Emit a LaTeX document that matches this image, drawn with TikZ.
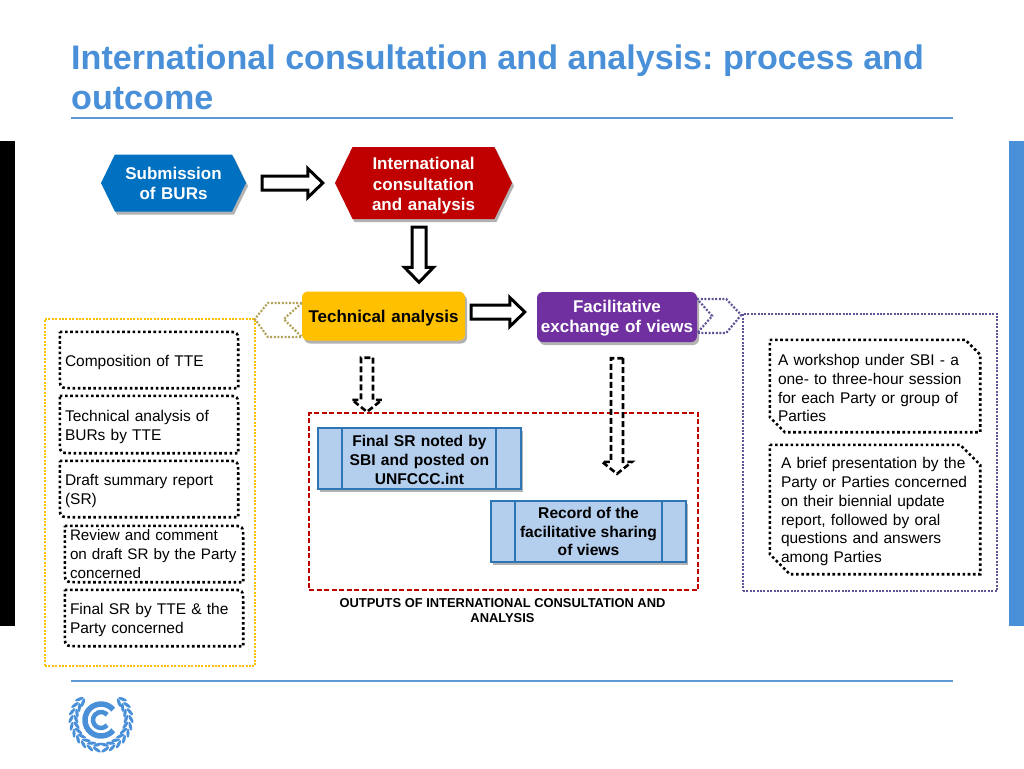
\documentclass[tikz,border=0pt]{standalone}
\usepackage{fontspec}
\setmainfont{Liberation Sans}
\frenchspacing
\usetikzlibrary{calc,shadows,shapes.symbols}
\definecolor{unfcccBlue}{RGB}{74, 144, 217}
\definecolor{unfcccLine}{RGB}{91, 155, 213}
\definecolor{subBlue}{RGB}{0, 112, 192}
\definecolor{icaRed}{RGB}{192, 0, 0}
\definecolor{taYellow}{RGB}{255, 192, 0}
\definecolor{fevPurple}{RGB}{112, 48, 160}
\definecolor{chevOlive}{RGB}{178, 162, 90}
\definecolor{frameSlate}{RGB}{96, 84, 150}
\definecolor{outBorder}{RGB}{46, 117, 182}
\definecolor{outFill}{RGB}{180, 207, 238}
\tikzset{
  softshadow/.style={drop shadow={shadow xshift=2pt,shadow yshift=-3pt,opacity=.3,fill=black}},
  lowertext/.style={execute at begin node={\rule{0pt}{#1}}},
  hexbox/.style={signal, signal to=west and east, signal pointer angle=128, inner sep=0, draw=none, softshadow, text=white, align=center, font=\fontsize{17}{20.5}\selectfont\bfseries},
  stagebox/.style={rectangle, rounded corners=6, inner sep=0, softshadow, align=center, font=\fontsize{17}{20.5}\selectfont\bfseries},
  notebox/.style={rectangle, inner xsep=5, inner ysep=0, align=left, font=\fontsize{15.5}{18.8}\selectfont},
  noteline/.style={draw=black, line width=2.6, dash pattern=on 2.6 off 2.6},
  framebox/.style={rectangle, inner sep=0, line width=2, dash pattern=on 2 off 1.4},
  outputbox/.style={rectangle, inner sep=0, draw=outBorder, line width=2.4, fill=outFill, softshadow, align=center, font=\fontsize{15.6}{18.8}\selectfont\bfseries},
  outputrule/.style={draw=outBorder, line width=2.4},
  chevrondot/.style={line width=2.2, dash pattern=on 2 off 1.6},
  blockarrow/.style n args={3}{to path={
    ($(\tikztostart)!#1pt!90:(\tikztotarget)$)
    -- ($(\tikztotarget)!#3pt!(\tikztostart)!#1pt!-90:(\tikztostart)$)
    -- ($(\tikztotarget)!#3pt!(\tikztostart)!#2pt!-90:(\tikztostart)$)
    -- (\tikztotarget)
    -- ($(\tikztotarget)!#3pt!(\tikztostart)!#2pt!90:(\tikztostart)$)
    -- ($(\tikztotarget)!#3pt!(\tikztostart)!#1pt!90:(\tikztostart)$)
    -- ($(\tikztostart)!#1pt!-90:(\tikztotarget)$) -- cycle}},
  solidarrow/.style={blockarrow={7}{14.5}{15}, draw=black, line width=3, fill=white, line join=miter},
  dasharrow/.style={blockarrow={6}{15}{12}, draw=black, line width=2.6, dash pattern=on 6 off 3}
}
\begin{document}
\begin{tikzpicture}[x=1pt, y=-1pt]
\useasboundingbox (0,0) rectangle (1024,768);
\fill[black] (0,141) rectangle (15,626);
\fill[unfcccBlue] (1009,141) rectangle (1024,626);
\node[anchor=north west, inner sep=0, align=left, text=unfcccBlue, font=\fontsize{34.1}{40}\selectfont\bfseries] (title) at (71,45) {International consultation and analysis: process and\\outcome};
\coordinate (titleruleL) at (71,118);
\coordinate (titleruleR) at (953,118);
\coordinate (footruleL) at (71,681);
\coordinate (footruleR) at (953,681);
\draw[unfcccLine, line width=1.3] (titleruleL) -- (titleruleR);
\draw[unfcccLine, line width=1.3] (footruleL) -- (footruleR);

\node[framebox, draw=taYellow, minimum width=210, minimum height=347] (leftframe) at (150,492.5) {};
\node[framebox, draw=frameSlate, minimum width=254, minimum height=277] (rightframe) at (870,452.5) {};
\node[rectangle, inner sep=0, draw=icaRed, line width=1.6, dash pattern=on 5 off 2.5, minimum width=389, minimum height=177] (outframe) at (503.5,501.5) {};

\node[hexbox, fill=subBlue, text width=110, lowertext=13.5pt, minimum width=145, minimum height=57] (subm) at (173.5,183) {Submission\\of BURs};
\node[hexbox, fill=icaRed, text width=120, lowertext=18pt, minimum width=177, minimum height=72] (ica) at (423.5,183) {International\\consultation\\and analysis};
\node[stagebox, fill=taYellow, text width=160, lowertext=17pt, minimum width=163, minimum height=49] (tech) at (383.5,316) {Technical analysis};
\node[stagebox, fill=fevPurple, text=white, text width=156, lowertext=15pt, minimum width=160, minimum height=50] (fev) at (617,317) {Facilitative\\exchange of views};

\draw[solidarrow] ([xshift=16]subm.east) to ([xshift=-12]ica.west);
\draw[solidarrow] ([xshift=-4.5,yshift=-8]ica.south) to ([xshift=35.5,yshift=9]tech.north);
\draw[solidarrow] ([xshift=6,yshift=4]tech.east) to ([xshift=-12,yshift=5]fev.west);

\draw[chevrondot, draw=chevOlive] ([yshift=13]tech.west) -- ++(-34,0) -- ++(-13,16) -- ++(13,18) -- ++(34,0) -- ++(-18,-18) -- cycle;
\draw[chevrondot, draw=frameSlate] ([yshift=18]fev.east) -- ++(29,0) -- ++(15,16) -- ++(-15,18) -- ++(-29,0) -- ++(15,-17) -- cycle;

\node[notebox, lowertext=15.5pt, text width=168, minimum height=56] (comp) at (149,360) {Composition of TTE};
\node[notebox, lowertext=15.5pt, text width=168, minimum height=57] (taburs) at (149,424.5) {Technical analysis of\\BURs by TTE};
\node[notebox, lowertext=15.5pt, text width=168, minimum height=56] (draft) at (149,489) {Draft summary report\\(SR)};
\node[notebox, text width=168, minimum height=56, font=\fontsize{15.2}{18.8}\selectfont] (review) at (154,554) {Review and comment\\\mbox{on draft SR by the Party}\\concerned};
\node[notebox, lowertext=15.5pt, text width=168, minimum height=56] (finalsr) at (154,618) {Final SR by TTE \& the\\Party concerned};
\node[notebox, lowertext=15.5pt, inner xsep=8, text width=194, minimum height=92] (workshop) at (875,386) {A workshop under SBI - a\\one- to three-hour session\\for each Party or group of\\Parties};
\node[notebox, lowertext=15.5pt, inner xsep=11, text width=188, minimum height=129] (brief) at (875,509.5) {A brief presentation by the\\Party or Parties concerned\\on their biennial update\\report, followed by oral\\questions and answers\\among Parties};

\foreach \boxname in {comp,taburs,draft,review,finalsr} {
  \draw[noteline] (\boxname.north west) -- ([xshift=-13]\boxname.north east) .. controls (\boxname.north east) .. ([yshift=-13]\boxname.north east) -- (\boxname.south east) -- ([xshift=13]\boxname.south west) .. controls (\boxname.south west) .. ([yshift=13]\boxname.south west) -- cycle;
}
\foreach \boxname/\cut in {workshop/15,brief/20} {
  \draw[noteline] (\boxname.north west) -- ([xshift=-\cut]\boxname.north east) -- ([yshift=-\cut]\boxname.north east) -- (\boxname.south east) -- ([xshift=\cut]\boxname.south west) -- ([yshift=\cut]\boxname.south west) -- cycle;
}

\node[outputbox, text width=148, lowertext=14pt, minimum width=203, minimum height=61] (srnoted) at (419.5,458.5) {Final SR noted by\\SBI and posted on\\UNFCCC.int};
\draw[outputrule] ([xshift=25]srnoted.north west) -- ([xshift=25]srnoted.south west);
\draw[outputrule] ([xshift=-26]srnoted.north east) -- ([xshift=-26]srnoted.south east);
\node[outputbox, minimum width=195, minimum height=61] (record) at (588.5,531.5) {Record of the\\facilitative sharing\\of views};
\draw[outputrule] ([xshift=25]record.north west) -- ([xshift=25]record.south west);
\draw[outputrule] ([xshift=-25]record.north east) -- ([xshift=-25]record.south east);

\draw[dasharrow] ([xshift=-16.5,yshift=-17]tech.south) to ([xshift=-52.5,yshift=15]srnoted.north);
\draw[dasharrow] ([yshift=-16]fev.south) to ([xshift=28.5,yshift=26]record.north);

\node[inner sep=0, align=center, font=\fontsize{12.9}{15.5}\selectfont\bfseries] (outcap) at (502.5,610.5) {OUTPUTS OF INTERNATIONAL CONSULTATION AND\\ANALYSIS};

\draw[unfcccBlue, line width=5.5] (101,720) ++(40:16) arc (40:320:16);
\draw[unfcccBlue, line width=4.5] (101,720) ++(40:8) arc (40:320:8);
\foreach \a in {-82,-68,...,44} {
  \foreach \s in {1,-1} {
    \fill[unfcccBlue, xshift=101, yshift=-720, xscale=\s, rotate=\a, shift={(25,0)}, rotate=-25] (0,0) ellipse [x radius=1.6, y radius=4.6];
    \fill[unfcccBlue, xshift=101, yshift=-720, xscale=\s, rotate=\a, shift={(30,0)}, rotate=25] (0,0) ellipse [x radius=1.6, y radius=4.6];
  }
}
\end{tikzpicture}
\end{document}
